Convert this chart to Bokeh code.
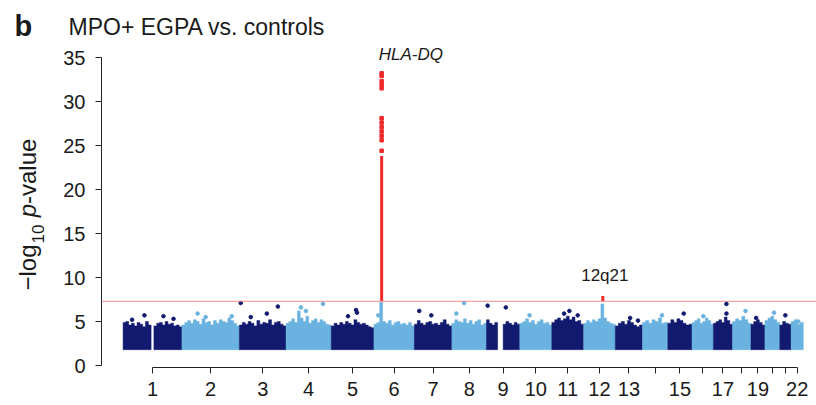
import numpy as np
from bokeh.plotting import figure
from bokeh.layouts import column, row
from bokeh.models import Range1d, FixedTicker, Span, Label, ColumnDataSource
from bokeh.embed import file_html
from bokeh.resources import INLINE

# ---------------- data ----------------
chrom_names = [str(i) for i in range(1, 23)]
chrom_len_mb = [249.3, 243.2, 198.0, 191.2, 180.9, 171.1, 159.1, 146.4, 141.2, 135.5, 135.0,
                133.9, 115.2, 107.3, 102.5, 90.4, 81.2, 78.1, 59.1, 63.0, 48.1, 51.3]
tick_labels = ["1", "2", "3", "4", "5", "6", "7", "8", "9", "10", "11", "12", "13", "",
               "15", "", "17", "", "19", "", "", "22"]

# upper edge of the dense cloud of SNPs, in equal bins along each chromosome (0 = no SNPs)
skyline = {
    "1": [4.9, 5.0, 4.6, 4.8, 4.5, 4.9, 4.7, 4.4, 5.0, 4.6, 0, 4.5, 4.8, 4.9, 4.6, 5.0, 4.7, 4.8, 4.5, 4.6, 4.4],
    "2": [4.6, 4.9, 5.1, 4.8, 5.2, 5.0, 4.7, 5.3, 4.9, 5.0, 4.6, 5.1, 4.8, 5.2, 5.0, 4.9, 5.4, 5.1, 4.8, 4.5],
    "3": [4.6, 4.9, 4.7, 5.0, 4.8, 4.5, 5.1, 4.7, 4.9, 4.8, 5.2, 4.6, 4.9, 5.0, 4.7, 4.5],
    "4": [4.8, 5.0, 5.3, 4.9, 6.2, 5.4, 5.0, 5.6, 4.8, 5.1, 5.3, 4.9, 5.2, 5.0, 4.7, 4.6],
    "5": [4.5, 4.8, 4.6, 4.9, 4.7, 5.0, 4.8, 4.6, 5.2, 4.9, 4.7, 4.8, 4.6, 4.4, 4.3],
    "6": [4.7, 4.9, 7.2, 5.0, 4.8, 5.1, 4.6, 4.9, 5.0, 4.7, 4.8, 4.6, 4.9, 4.5],
    "7": [4.7, 5.1, 4.8, 4.6, 4.9, 5.0, 4.7, 4.8, 4.6, 4.9, 5.2, 4.7, 4.5],
    "8": [4.8, 5.2, 5.0, 4.9, 5.3, 4.8, 5.1, 4.7, 5.0, 5.2, 4.6, 4.8],
    "9": [5.2, 4.8, 4.6, 4.9, 0, 0, 4.7, 5.0, 4.8, 4.6, 4.9, 4.7],
    "10": [4.8, 5.0, 5.3, 4.9, 5.1, 4.7, 5.0, 5.2, 4.8, 4.9, 4.6],
    "11": [4.9, 5.2, 5.4, 5.1, 5.3, 5.6, 5.2, 5.5, 5.0, 5.1, 4.7],
    "12": [4.8, 5.1, 4.9, 5.2, 5.0, 5.3, 7.0, 5.4, 5.0, 4.8, 4.7],
    "13": [4.5, 4.8, 5.0, 4.7, 5.1, 4.9, 4.6, 4.4, 4.6],
    "14": [4.9, 5.1, 4.8, 5.2, 5.0, 5.4, 4.8, 4.9],
    "15": [4.8, 5.2, 4.9, 5.3, 5.1, 4.8, 4.6, 4.7],
    "16": [4.9, 5.1, 5.3, 4.8, 5.0, 5.4, 5.1, 4.7],
    "17": [4.8, 5.0, 5.2, 4.9, 5.5, 5.1, 4.7],
    "18": [5.0, 5.3, 5.1, 5.6, 5.2, 4.8],
    "19": [4.7, 5.0, 5.2, 4.9, 4.6],
    "20": [5.1, 5.4, 5.6, 5.2, 4.9],
    "21": [4.6, 5.0, 4.8, 4.7],
    "22": [5.0, 5.2, 4.7, 4.9],
}
cloud_floor = 1.8

# isolated SNPs above the dense cloud: chromosome, position (Mb), -log10 p
top_chrom = ["1", "1", "1", "1", "2", "2", "2", "3", "3", "3", "3", "4", "4", "4", "5", "5", "5",
             "6", "7", "7", "8", "8", "9", "9", "10", "11", "11", "11", "13", "13", "14", "15",
             "16", "17", "17", "18", "19", "20", "21", "22"]
top_pos_mb = [38.2, 90.5, 171.0, 213.7, 66.3, 100.3, 210.7, 5.8, 48.3, 116.2, 163.0, 62.7, 83.9,
              156.1, 71.1, 105.1, 109.0, 18.4, 20.8, 71.8, 18.9, 51.5, 5.0, 81.9, 41.3, 52.0,
              74.5, 109.7, 63.0, 96.0, 82.5, 67.3, 48.0, 55.4, 55.4, 54.9, 22.0, 38.4, 23.4, 30.0]
top_logp = [5.2, 5.7, 5.6, 5.3, 5.9, 5.5, 5.6, 7.1, 5.5, 5.9, 6.7, 6.6, 6.2, 7.0, 5.6, 6.3, 6.0,
            5.7, 6.2, 5.7, 5.9, 7.1, 6.8, 6.6, 5.7, 5.9, 6.2, 5.7, 5.4, 5.1, 5.7, 5.9, 5.6, 5.9,
            7.0, 6.2, 5.4, 6.0, 5.7, 5.0]

# genome-wide significant loci
gw_threshold = 7.3
hla_chrom, hla_pos_mb = "6", 32.6
hla_dense_top = 23.8
hla_points = [24.4, 25.6, 26.1, 26.6, 27.1, 27.6, 28.1, 31.5, 31.9, 32.3, 32.9, 33.2]
q21_chrom, q21_pos_mb = "12", 81.0
q21_top = 7.9

dark_col = "#111a6e"
light_col = "#6ab2e0"
red_col = "#ee2a2a"
thr_col = "#f08a8f"
txt_col = "#1a1a1a"
FONT = "Liberation Sans"
DESC = 0.21  # font descent (em), used to put a text's baseline where the reference has it

# ---------------- layout helpers ----------------
offsets = np.concatenate([[0.0], np.cumsum(chrom_len_mb)[:-1]])
off = dict(zip(chrom_names, offsets))
mids = [off[c] + chrom_len_mb[i] / 2 for i, c in enumerate(chrom_names)]
colour = {c: (dark_col if i % 2 == 0 else light_col) for i, c in enumerate(chrom_names)}

xs, ys, fills = [], [], []
for i, c in enumerate(chrom_names):
    vals = skyline[c]
    w = chrom_len_mb[i] / len(vals)
    cur_x, cur_y = [], []
    for k, v in enumerate(list(vals) + [0]):
        if v > 0:
            l, r = off[c] + k * w, off[c] + (k + 1) * w
            if not cur_x:
                cur_x, cur_y = [l], [cloud_floor]
            cur_x += [l, r]
            cur_y += [v, v]
        elif cur_x:
            cur_x.append(cur_x[-1])
            cur_y.append(cloud_floor)
            xs.append(cur_x)
            ys.append(cur_y)
            fills.append(colour[c])
            cur_x, cur_y = [], []
cloud = ColumnDataSource(dict(xs=xs, ys=ys, fill=fills))
dots = ColumnDataSource(dict(x=[off[c] + p for c, p in zip(top_chrom, top_pos_mb)], y=top_logp,
                             fill=[colour[c] for c in top_chrom]))

# page geometry: plot frame spans x 101..816, y 45..367 of the 816x405 page
x0, x1 = -91.4, 2937.0
y0, y1 = -0.227, 36.364

p = figure(width=766, height=360, output_backend="svg", toolbar_location=None, title=None,
           x_range=Range1d(x0, x1), y_range=Range1d(y0, y1),
           min_border_left=51, min_border_right=0, min_border_top=0, min_border_bottom=38)
p.outline_line_color = None
p.xgrid.visible = False
p.ygrid.visible = False
p.background_fill_color = "white"
p.border_fill_color = "white"

p.patches(xs="xs", ys="ys", source=cloud, fill_color="fill", line_color="fill", line_width=0.5)
p.scatter("x", "y", source=dots, size=3.6, fill_color="fill", line_color="fill", marker="circle")

p.add_layout(Span(location=gw_threshold, dimension="width", line_color=thr_col, line_width=1.2))

hx = off[hla_chrom] + hla_pos_mb
p.segment(x0=[hx], y0=[gw_threshold], x1=[hx], y1=[hla_dense_top], line_color=red_col, line_width=3)
p.scatter([hx] * len(hla_points), hla_points, size=3.5, marker="square", color=red_col)
qx = off[q21_chrom] + q21_pos_mb
p.segment(x0=[qx], y0=[gw_threshold], x1=[qx], y1=[q21_top], line_color=red_col, line_width=3)

# axes
ya = p.yaxis[0]
ya.ticker = FixedTicker(ticks=[0, 5, 10, 15, 20, 25, 30, 35])
ya.bounds = (0, 35)
xa = p.xaxis[0]
xa.ticker = FixedTicker(ticks=mids)
xa.bounds = (mids[0], mids[-1])
xa.major_label_overrides = {m: t for m, t in zip(mids, tick_labels)}
for ax in (xa, ya):
    ax.major_tick_in = 0
    ax.major_tick_out = 6
    ax.minor_tick_line_color = None
    ax.axis_line_color = "#222222"
    ax.major_tick_line_color = "#222222"
    ax.major_label_text_font = FONT
    ax.major_label_text_font_size = "20px"
    ax.major_label_text_color = txt_col
ya.major_label_standoff = 10
xa.major_label_standoff = 8

p.add_layout(Label(x=hx, y=34.3, x_offset=-3, text="HLA-DQ", text_font=FONT, text_font_size="17px",
                   text_font_style="italic", text_color=txt_col, text_align="left"))
p.add_layout(Label(x=qx, y=9.1, x_offset=2, text="12q21", text_font=FONT, text_font_size="17px",
                   text_color=txt_col, text_align="center"))

# ---------------- header (panel letter + title); y counts up from the header's bottom ----------------
head = figure(width=816, height=45, output_backend="svg", toolbar_location=None, title=None,
              x_range=Range1d(0, 816), y_range=Range1d(0, 45), min_border=0,
              x_axis_location=None, y_axis_location=None)
head.outline_line_color = None
head.grid.visible = False
head.background_fill_color = "white"
head.border_fill_color = "white"
head.add_layout(Label(x=14, y=45 - (35 + DESC * 29), text="b", text_font=FONT, text_font_size="29px",
                      text_font_style="bold", text_color=txt_col, text_baseline="bottom"))
head.add_layout(Label(x=68, y=45 - (35 + DESC * 23), text="MPO+ EGPA vs. controls", text_font=FONT,
                      text_font_size="23px", text_color=txt_col, text_baseline="bottom"))

# ---------------- y-axis title "−log10 p-value" (side frame spans page y 45..367) ----------------
side = figure(width=50, height=360, output_backend="svg", toolbar_location=None, title=None,
              x_range=Range1d(0, 50), y_range=Range1d(0, 322), min_border=0, min_border_bottom=38,
              x_axis_location=None, y_axis_location=None)
side.outline_line_color = None
side.grid.visible = False
side.background_fill_color = "white"
side.border_fill_color = "white"
S = 24
SUB = 17
base_x = 35
ypage = 290
pieces = [
    # text, size, style, baseline shift (px), advance (px) after the piece
    ("−log", S, "normal", 0, 1.918 * S + 1),
    ("10", SUB, "normal", 5, 1.112 * SUB + 0.3 * S),
    ("p", S, "italic", 0, 0.556 * S),
    ("-value", S, "normal", 0, 2.723 * S),
]
for txt, fs, style, shift, adv in pieces:
    side.add_layout(Label(x=base_x + shift + DESC * fs, y=367 - ypage, text=txt, angle=np.pi / 2,
                          text_font=FONT, text_font_size=f"{fs}px", text_font_style=style,
                          text_color=txt_col, text_align="left", text_baseline="bottom"))
    ypage -= adv

layout = column(head, row(side, p, spacing=0), spacing=0)
open("out.html", "w").write(file_html(layout, INLINE))
